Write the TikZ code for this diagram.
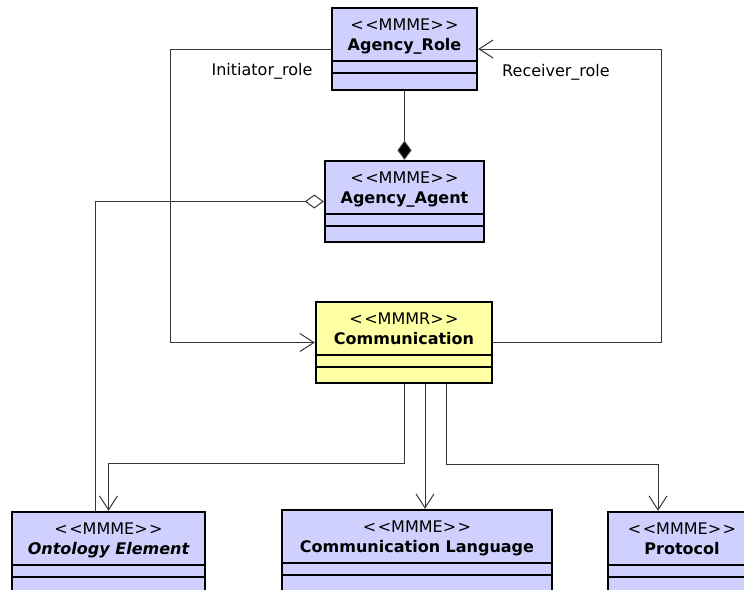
\documentclass[tikz,border=0pt]{standalone}
\usepackage{fontspec}
\setmainfont{DejaVu Sans}
\usetikzlibrary{arrows.meta,positioning}
\definecolor{lav}{RGB}{208,208,255}
\definecolor{lemon}{RGB}{255,255,163}
\definecolor{wire}{RGB}{55,55,55}
\begin{document}
\begin{tikzpicture}[x=1pt,y=-1pt,
  cls/.style={draw=black,line width=2.4pt,fill=lav,inner sep=0pt},
  sep/.style={draw=black,line width=1.4pt},
  stereo/.style={anchor=base,inner sep=0pt,font=\fontsize{16}{19}\selectfont},
  cname/.style={anchor=base,inner sep=0pt,font=\fontsize{16}{19}\selectfont\bfseries},
  lbl/.style={inner sep=0pt,font=\fontsize{16}{19}\selectfont},
  link/.style={draw=wire,line width=1pt},
  assoc/.style={link,-{Straight Barb[length=14pt,width=18pt,line width=1pt]}},
  compose/.style={link,-{Diamond[length=19pt,width=14pt,fill=black]}},
  aggr/.style={link,-{Diamond[open,length=19pt,width=14pt,fill=white,line width=1pt]}}]
\clip (0,0) rectangle (744,589);
%
\node[cls,minimum width=145,minimum height=82] (role) at (404.5,49) {};
\node[cls,minimum width=159,minimum height=81] (agent) at (404.5,201.5) {};
\node[cls,fill=lemon,minimum width=176,minimum height=81] (comm) at (404,342.5) {};
\node[cls,minimum width=193,minimum height=120] (onto) at (108.5,572) {};
\node[cls,minimum width=270,minimum height=120] (lang) at (417,570) {};
\node[cls,minimum width=148,minimum height=120] (proto) at (682,572) {};
%
\foreach \n/\s/\t in {role/MMME/Agency\_Role,agent/MMME/Agency\_Agent,comm/MMMR/Communication,
  onto/MMME/{\itshape Ontology Element},lang/MMME/Communication Language,proto/MMME/Protocol}{
  \node[stereo] (\n-s) at ([yshift=-23.5]\n.north) {<\kern1.5pt<\s>\kern1.5pt>};
  \node[cname] (\n-t) at ([yshift=-44]\n.north) {\t};
  \draw[sep] ([yshift=-54]\n.north west)--([yshift=-54]\n.north east);
  \draw[sep] ([yshift=-66]\n.north west)--([yshift=-66]\n.north east);
}
%
\node[lbl] (init) at (262,71) {Initiator\_role};
\node[lbl] (recv) at (556,72) {Receiver\_role};
%
\draw[assoc] (role.west)--++(-160,0)|-(comm.west);
\draw[assoc] (comm.east)--++(168,0)|-(role.east);
\draw[compose] (role.south)--(agent.north);
\draw[aggr] ([xshift=-13.5]onto.north)|-(agent.west);
%
\draw[assoc] (comm.south)--++(0,79)-|(onto.north);
\draw[assoc] ([xshift=21]comm.south)--([xshift=21]comm.south|-lang.north);
\draw[assoc] ([xshift=42]comm.south)--++(0,80)-|([xshift=-24]proto.north);
\end{tikzpicture}
\end{document}
